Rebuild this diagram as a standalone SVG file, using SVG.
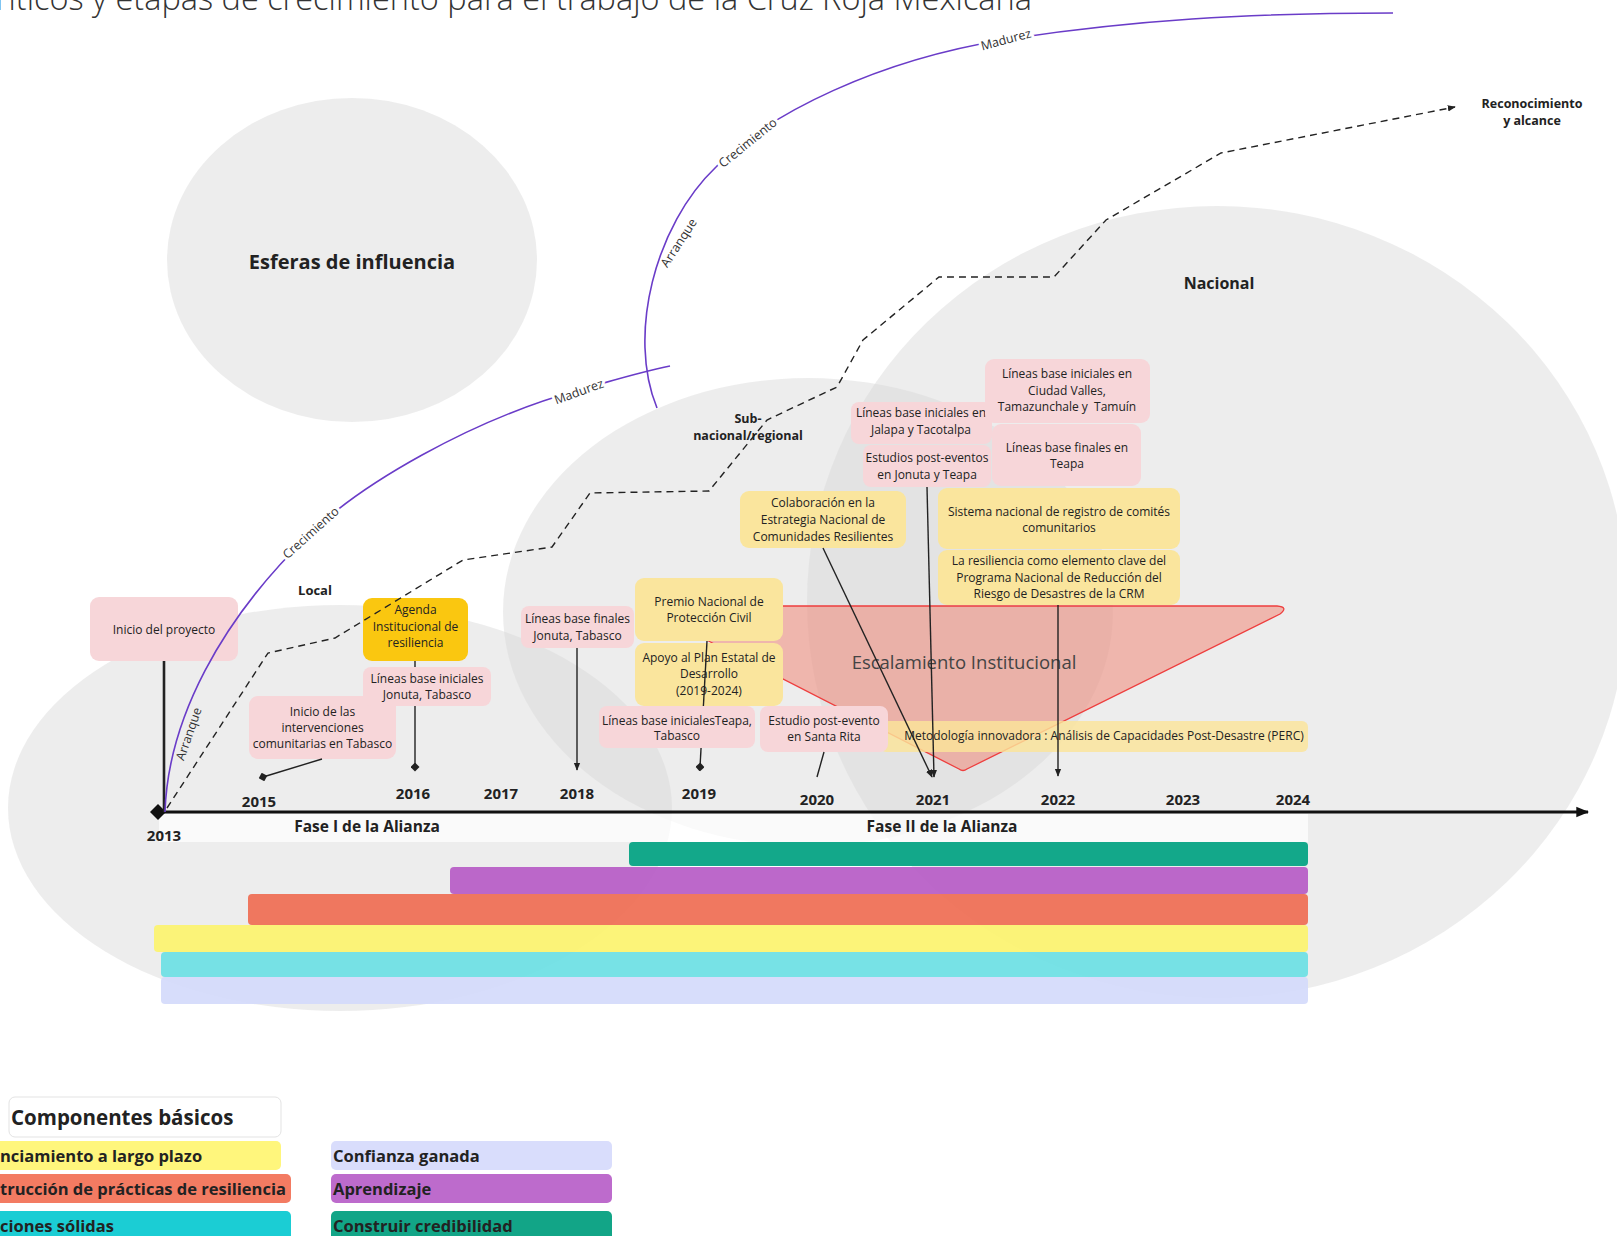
<svg xmlns="http://www.w3.org/2000/svg" width="1617" height="1236" viewBox="0 0 1617 1236">
<style>
text{font-family:'Open Sans','Noto Sans','DejaVu Sans',sans-serif;fill:#222}
.bx{font-size:12px;text-anchor:middle}
.pink{fill:#F7D6D9}
.yel{fill:#FAE59D}
.bub{fill:#d8d8d8;fill-opacity:0.45}
.yr{font-size:15px;font-weight:700;text-anchor:middle}
.fase{font-size:15.5px;font-weight:700;text-anchor:middle}
.zone{font-weight:700;text-anchor:middle}
.cl{font-size:12.5px;fill:#333;text-anchor:middle}
.halo{stroke:#fff;stroke-width:6;paint-order:stroke;stroke-linejoin:round}
.conn{stroke:#222;stroke-width:1.4;fill:none}
.pur{stroke:#6A3CC8;stroke-width:1.6;fill:none}
.bar{fill-opacity:0.92}
.lg{font-size:16.5px;font-weight:700}
</style>
<defs>
<marker id="arr" viewBox="0 0 10 10" refX="9" refY="5" markerWidth="8" markerHeight="8" markerUnits="userSpaceOnUse" orient="auto"><path d="M0,1 L10,5 L0,9 z" fill="#222"/></marker>
<marker id="axarr" viewBox="0 0 10 10" refX="9" refY="5" markerWidth="13" markerHeight="13" markerUnits="userSpaceOnUse" orient="auto"><path d="M0,1 L10,5 L0,9 z" fill="#111"/></marker>
<marker id="dia" viewBox="0 0 10 10" refX="5" refY="5" markerWidth="9" markerHeight="9" markerUnits="userSpaceOnUse" orient="auto"><path d="M5,0 L10,5 L5,10 L0,5 z" fill="#222"/></marker>
</defs>
<rect x="0" y="0" width="1617" height="1236" fill="#ffffff"/>

<g id="spheres">
<ellipse cx="352" cy="260" rx="185" ry="162" class="bub"/>
<ellipse cx="340" cy="808" rx="332" ry="203" class="bub"/>
<ellipse cx="808" cy="612" rx="305" ry="234" class="bub"/>
<ellipse cx="1217" cy="602" rx="410" ry="396" class="bub"/>
</g>

<text x="1032" y="10" text-anchor="end" font-size="32.5" font-weight="300" style="fill:#333">ríticos y etapas de crecimiento para el trabajo de la Cruz Roja Mexicana</text>

<g id="zone-labels">
<text x="352" y="269" class="zone" font-size="20">Esferas de influencia</text>
<text x="315" y="595" class="zone" font-size="13">Local</text>
<text x="748" y="423" class="zone" font-size="12.5">Sub-</text>
<text x="748" y="440" class="zone" font-size="12.5">nacional/regional</text>
<text x="1219" y="289" class="zone" font-size="16">Nacional</text>
<text x="1532" y="108" class="zone" font-size="12.5">Reconocimiento</text>
<text x="1532" y="125" class="zone" font-size="12.5">y alcance</text>
</g>

<g id="phases">
<rect x="159" y="814" width="417" height="28" fill="#ffffff" fill-opacity="0.7"/>
<rect x="576" y="814" width="732" height="28" fill="#ffffff" fill-opacity="0.7"/>
<text x="367" y="832" class="fase">Fase I de la Alianza</text>
<text x="942" y="832" class="fase">Fase II de la Alianza</text>
</g>

<g id="bars">
<rect x="629" y="842" width="679" height="24" rx="4" fill="#13A88A"/>
<rect x="450" y="867" width="858" height="27" rx="4" fill="#B65BC5" class="bar"/>
<rect x="248" y="894" width="1060" height="31" rx="4" fill="#EF6D53" class="bar"/>
<rect x="154" y="925" width="1154" height="27" rx="4" fill="#FCF36E" class="bar"/>
<rect x="161" y="952" width="1147" height="25" rx="4" fill="#6BE0E4" class="bar"/>
<rect x="161" y="977" width="1147" height="27" rx="4" fill="#D4DAFB" class="bar"/>
</g>

<g id="years">
<text x="164" y="841" class="yr">2013</text>
<text x="259" y="807" class="yr">2015</text>
<text x="413" y="799" class="yr">2016</text>
<text x="501" y="799" class="yr">2017</text>
<text x="577" y="799" class="yr">2018</text>
<text x="699" y="799" class="yr">2019</text>
<text x="817" y="805" class="yr">2020</text>
<text x="933" y="805" class="yr">2021</text>
<text x="1058" y="805" class="yr">2022</text>
<text x="1183" y="805" class="yr">2023</text>
<text x="1293" y="805" class="yr">2024</text>
</g>

<g id="escalamiento">
<path d="M640,606 L1277,606 Q1289,607 1280,614 L967,769 Q963,772 959,769 Z" fill="#F08878" fill-opacity="0.55" stroke="#EE3E3E" stroke-width="1.3"/>
<text x="964" y="669" font-size="18.5" text-anchor="middle" style="fill:#444">Escalamiento Institucional</text>
</g>

<g id="n-inicio"><rect x="90" y="597" width="148" height="64" rx="9" class="pink"/><text class="bx"><tspan x="164" y="634">Inicio del proyecto</tspan></text></g>
<g id="n-agenda"><rect x="363" y="598" width="105" height="63" rx="9" fill="#FAC710"/><text class="bx"><tspan x="415.5" y="614">Agenda</tspan><tspan x="415.5" y="631">Institucional de</tspan><tspan x="415.5" y="647">resiliencia</tspan></text></g>
<g id="n-intervenciones"><rect x="249" y="696" width="147" height="63" rx="9" class="pink"/><text class="bx"><tspan x="322.5" y="716">Inicio de las</tspan><tspan x="322.5" y="732">intervenciones</tspan><tspan x="322.5" y="748">comunitarias en Tabasco</tspan></text></g>
<g id="n-lbf-jonuta"><rect x="521" y="606" width="113" height="42" rx="8" class="pink"/><text class="bx"><tspan x="577.5" y="623">Líneas base finales</tspan><tspan x="577.5" y="640">Jonuta, Tabasco</tspan></text></g>
<g id="n-premio"><rect x="635" y="578" width="148" height="63" rx="9" class="yel"/><text class="bx"><tspan x="709" y="606">Premio Nacional de</tspan><tspan x="709" y="622">Protección Civil</tspan></text></g>
<g id="n-apoyo"><rect x="635" y="643" width="148" height="63" rx="9" class="yel"/><text class="bx"><tspan x="709" y="662">Apoyo al Plan Estatal de</tspan><tspan x="709" y="678">Desarrollo</tspan><tspan x="709" y="695">(2019-2024)</tspan></text></g>
<g id="n-colaboracion"><rect x="740" y="491" width="166" height="57" rx="9" class="yel"/><text class="bx"><tspan x="823" y="507">Colaboración en la</tspan><tspan x="823" y="524">Estrategia Nacional de</tspan><tspan x="823" y="541">Comunidades Resilientes</tspan></text></g>
<g id="n-jalapa"><rect x="851" y="402" width="141" height="42" rx="8" class="pink"/><text class="bx"><tspan x="921" y="417">Líneas base iniciales en</tspan><tspan x="921" y="434">Jalapa y Tacotalpa</tspan></text></g>
<g id="n-estudios"><rect x="863" y="445" width="128" height="42" rx="8" class="pink"/><text class="bx"><tspan x="927" y="462">Estudios post-eventos</tspan><tspan x="927" y="479">en Jonuta y Teapa</tspan></text></g>
<g id="n-valles"><rect x="985" y="359" width="165" height="64" rx="9" class="pink"/><text class="bx" xml:space="preserve"><tspan x="1067" y="378">Líneas base iniciales en</tspan><tspan x="1067" y="395">Ciudad Valles,</tspan><tspan x="1067" y="411">Tamazunchale y  Tamuín</tspan></text></g>
<g id="n-teapa-finales"><rect x="992" y="424" width="149" height="62" rx="9" class="pink"/><text class="bx"><tspan x="1067" y="452">Líneas base finales en</tspan><tspan x="1067" y="468">Teapa</tspan></text></g>
<g id="n-sistema"><rect x="938" y="488" width="242" height="61" rx="9" class="yel"/><text class="bx"><tspan x="1059" y="516">Sistema nacional de registro de comités</tspan><tspan x="1059" y="532">comunitarios</tspan></text></g>
<g id="n-resiliencia"><rect x="938" y="550" width="242" height="55" rx="9" class="yel"/><text class="bx"><tspan x="1059" y="565">La resiliencia como elemento clave del</tspan><tspan x="1059" y="582">Programa Nacional de Reducción del</tspan><tspan x="1059" y="598">Riesgo de Desastres de la CRM</tspan></text></g>
<g id="n-perc"><rect x="880" y="721" width="428" height="31" rx="6" fill="#FBE49A" fill-opacity="0.82"/><text class="bx"><tspan x="1104" y="740">Metodología innovadora : Análisis de Capacidades Post-Desastre (PERC)</tspan></text></g>
<g id="n-santa-rita"><rect x="760" y="706" width="128" height="46" rx="8" class="pink"/><text class="bx"><tspan x="824" y="725">Estudio post-evento</tspan><tspan x="824" y="741">en Santa Rita</tspan></text></g>

<g id="connectors">
<line x1="158" y1="812" x2="1588" y2="812" stroke="#111" stroke-width="3" marker-end="url(#axarr)"/>
<path d="M150,812 L158,804 L166,812 L158,820 Z" fill="#111"/>
<line x1="164" y1="661" x2="164" y2="812" stroke="#222" stroke-width="2.6"/>
<path class="pur" d="M165,812 C168,720 220,620 311,533 C360,485 470,420 579,390 C615,380 640,372 670,366"/>
<path class="pur" d="M657,408 C627,335 655,225 716,167 C770,112 880,60 1003,40 C1130,20 1250,13 1393,13"/>
<path class="conn" stroke-width="1.6" stroke-dasharray="7 5" d="M167,808 L268,653 L335,638 L463,560 L552,547 L590,493 L709,491 L767,420 L837,387 L863,340 L939,277 L1054,277 L1106,220 L1221,153 L1455,107" marker-end="url(#arr)"/>
<path class="conn" d="M322,759 L263,777" marker-end="url(#dia)"/>
<path class="conn" d="M415,661 L415,767" marker-end="url(#dia)"/>
<path class="conn" d="M577,648 L577,770" marker-end="url(#arr)"/>
<path class="conn" d="M707,641 L700,767" marker-end="url(#dia)"/>
<path class="conn" d="M824,752 L817,777"/>
<path class="conn" d="M823,548 L932,777" marker-end="url(#arr)"/>
<path class="conn" d="M927,487 L934,777" marker-end="url(#arr)"/>
<path class="conn" d="M1058,605 L1058,776" marker-end="url(#arr)"/>
<text class="cl" transform="translate(189,734) rotate(-71)" dy="4">Arranque</text>
<text class="cl halo" transform="translate(311,533) rotate(-42)" dy="4">Crecimiento</text>
<text class="cl halo" transform="translate(579,392) rotate(-20)" dy="4">Madurez</text>
<text class="cl" transform="translate(679,243) rotate(-57)" dy="4">Arranque</text>
<text class="cl halo" transform="translate(748,143) rotate(-39)" dy="4">Crecimiento</text>
<text class="cl halo" transform="translate(1006,40) rotate(-15)" dy="4">Madurez</text>
</g>

<g id="n-lbi-jonuta"><rect x="363" y="667" width="128" height="39" rx="8" class="pink"/><text class="bx"><tspan x="427" y="683">Líneas base iniciales</tspan><tspan x="427" y="699">Jonuta, Tabasco</tspan></text></g>
<g id="n-lbi-teapa"><rect x="599" y="706" width="156" height="42" rx="8" class="pink"/><text class="bx"><tspan x="677" y="725">Líneas base inicialesTeapa,</tspan><tspan x="677" y="740">Tabasco</tspan></text></g>

<g id="legend">
<rect x="9" y="1097" width="272" height="40" rx="6" fill="#ffffff" stroke="#e3e3e3"/>
<text x="11" y="1125" font-size="20.5" font-weight="700">Componentes básicos</text>
<rect x="-10" y="1141" width="291" height="29" rx="5" fill="#FFF67C"/>
<text x="0" y="1162" class="lg">nciamiento a largo plazo</text>
<rect x="-10" y="1174" width="301" height="29" rx="5" fill="#F37B62"/>
<text x="0" y="1195" class="lg">trucción de prácticas de resiliencia</text>
<rect x="-10" y="1211" width="301" height="35" rx="5" fill="#1BCDD4"/>
<text x="0" y="1232" class="lg">ciones sólidas</text>
<rect x="331" y="1141" width="281" height="29" rx="5" fill="#D9DDFC"/>
<text x="333" y="1162" class="lg">Confianza ganada</text>
<rect x="331" y="1174" width="281" height="29" rx="5" fill="#BD6BCC"/>
<text x="333" y="1195" class="lg">Aprendizaje</text>
<rect x="331" y="1211" width="281" height="35" rx="5" fill="#12A587"/>
<text x="333" y="1232" class="lg">Construir credibilidad</text>
</g>
</svg>
